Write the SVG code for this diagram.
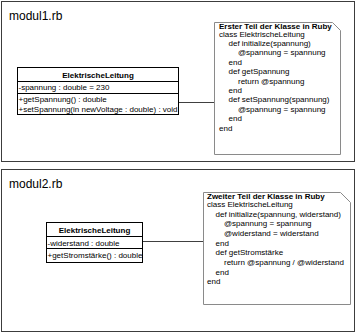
<svg xmlns="http://www.w3.org/2000/svg" width="356" height="334" viewBox="0 0 356 334">
  <style>
    text { font-family: "Liberation Sans", Arial, sans-serif; fill: #000; }
    .frame { fill: #fff; stroke: #3c3c3c; stroke-width: 1; }
    .frame-label { font-size: 12px; }
    .cls { fill: #fff; stroke: #000; stroke-width: 1; }
    .cls-name { font-size: 8px; font-weight: bold; text-anchor: middle; }
    .member { font-size: 8px; }
    .note { fill: #fff; stroke: #8a8a8a; stroke-width: 1; }
    .note-title { font-size: 8px; font-weight: bold; }
    .code { font-size: 8px; }
    .link { stroke: #404040; stroke-width: 1; fill: none; }
  </style>
  <rect width="356" height="334" fill="#fff"/>

  <!-- module frames -->
  <g id="modul1">
    <rect class="frame" x="1.5" y="1.5" width="353" height="160"/>
    <text class="frame-label" x="9" y="20">modul1.rb</text>
  </g>
  <g id="modul2">
    <rect class="frame" x="1.5" y="169.5" width="353" height="162"/>
    <text class="frame-label" x="9" y="188">modul2.rb</text>
  </g>

  <!-- connectors between classes and their notes -->
  <g id="connectors">
    <line class="link" x1="178" y1="102.5" x2="214.5" y2="102.5"/>
    <line class="link" x1="143" y1="241.5" x2="203.5" y2="241.5"/>
  </g>

  <!-- class in modul1 -->
  <g id="class1">
    <rect class="cls" x="17.5" y="67.5" width="161" height="47"/>
    <line class="cls" x1="17.5" y1="81.5" x2="178.5" y2="81.5"/>
    <line class="cls" x1="17.5" y1="93.5" x2="178.5" y2="93.5"/>
    <text class="cls-name" x="98" y="78">ElektrischeLeitung</text>
    <text class="member" x="18.5" y="90">-spannung : double = 230</text>
    <text class="member" x="18.5" y="102">+getSpannung() : double</text>
    <text class="member" x="18.5" y="111.5">+setSpannung(in newVoltage : double) : void</text>
  </g>

  <!-- note in modul1 -->
  <g id="note1">
    <path class="note" d="M214.5,22.5 H332.5 L340.5,30.5 V154.5 H214.5 Z"/>
    <text class="note-title" x="219" y="28.5">Erster Teil der Klasse in Ruby</text>
    <text class="code" x="219" y="36.5">class ElektrischeLeitung</text>
    <text class="code" x="228.5" y="45.9">def initialize(spannung)</text>
    <text class="code" x="238" y="55.3">@spannung = spannung</text>
    <text class="code" x="228.5" y="64.7">end</text>
    <text class="code" x="228.5" y="74.1">def getSpannung</text>
    <text class="code" x="238" y="83.5">return @spannung</text>
    <text class="code" x="228.5" y="92.9">end</text>
    <text class="code" x="228.5" y="102.3">def setSpannung(spannung)</text>
    <text class="code" x="238" y="111.7">@spannung = spannung</text>
    <text class="code" x="228.5" y="121.1">end</text>
    <text class="code" x="219" y="130.5">end</text>
  </g>

  <!-- class in modul2 -->
  <g id="class2">
    <rect class="cls" x="46.5" y="222.5" width="96" height="40"/>
    <line class="cls" x1="46.5" y1="236.5" x2="142.5" y2="236.5"/>
    <line class="cls" x1="46.5" y1="248.5" x2="142.5" y2="248.5"/>
    <text class="cls-name" x="94.5" y="233">ElektrischeLeitung</text>
    <text class="member" x="47.5" y="245.5">-widerstand : double</text>
    <text class="member" x="47.5" y="258">+getStromstärke() : double</text>
  </g>

  <!-- note in modul2 -->
  <g id="note2">
    <path class="note" d="M203.5,192.5 H340.5 L350.5,202.5 V304.5 H203.5 Z"/>
    <text class="note-title" x="207" y="198.5">Zweiter Teil der Klasse in Ruby</text>
    <text class="code" x="207" y="207">class ElektrischeLeitung</text>
    <text class="code" x="215.5" y="216.6">def initialize(spannung, widerstand)</text>
    <text class="code" x="224" y="226.3">@spannung = spannung</text>
    <text class="code" x="224" y="235.9">@widerstand = widerstand</text>
    <text class="code" x="215.5" y="245.6">end</text>
    <text class="code" x="215.5" y="255.2">def getStromstärke</text>
    <text class="code" x="224" y="264.9">return @spannung / @widerstand</text>
    <text class="code" x="215.5" y="274.5">end</text>
    <text class="code" x="207" y="284.2">end</text>
  </g>
</svg>
